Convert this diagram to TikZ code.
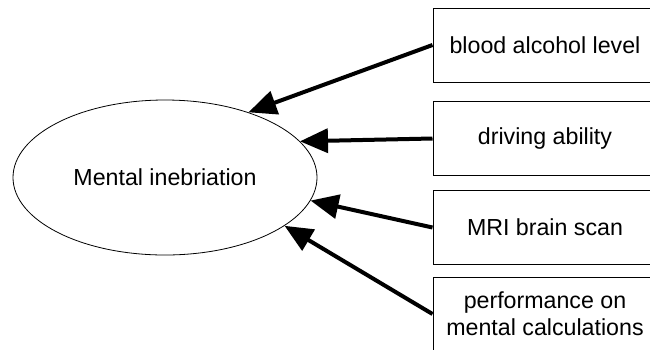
\documentclass[tikz,border=0pt]{standalone}
\usepackage{fontspec}
\setmainfont{Liberation Sans}
\usetikzlibrary{arrows.meta,shapes.geometric}
\begin{document}
\begin{tikzpicture}[x=1pt,y=-1pt,
  every node/.style={font=\fontsize{23.2}{27}\selectfont},
  latent/.style={ellipse,draw,line width=0.8pt,minimum width=304pt,minimum height=155pt,inner sep=0pt},
  indicator/.style={rectangle,draw,line width=1pt,minimum width=224pt,minimum height=74pt,align=center,inner sep=0pt},
  link/.style={line width=4pt,-{Triangle[length=28pt,width=24pt]}}]
  \useasboundingbox (0,0) rectangle (650,349);
  % latent construct
  \node[latent] (mi) at (165,177.5) {Mental inebriation};
  % observed indicators
  \node[indicator] (b1) at (545,45)  {blood alcohol level};
  \node[indicator] (b2) at (545,138.5) {driving ability};
  \node[indicator] (b3) at (545,227.5) {MRI brain scan};
  \node[indicator] (b4) at (545,314) {performance on\\mental calculations};
  % arrows from indicators to the construct
  \draw[link] (b1.west) -- (mi.38.5);
  \draw[link] (b2.west) -- (mi.15.9);
  \draw[link] (b3.west) -- (mi.-9.5);
  \draw[link] (b4.west) -- (mi.-22.6);
\end{tikzpicture}
\end{document}
